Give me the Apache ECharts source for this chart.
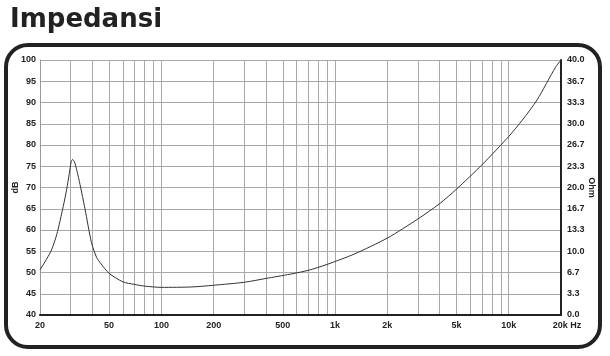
<!DOCTYPE html>
<html>
<head>
<meta charset="utf-8">
<script src="https://cdn.jsdelivr.net/npm/echarts@6/dist/echarts.min.js"></script>
<style>
html,body{margin:0;padding:0;background:#fff;}
#c{width:610px;height:356px;}
</style>
</head>
<body>
<div id="c"></div>
<script>
// Frequencies (Hz) and impedance curve values (dB scale)
var freqs = [20, 22, 23.3, 25, 27.2, 28.5, 29.5, 30.2, 30.8, 31.6, 32.6, 34, 36.3, 39.6, 42.3, 45, 50, 60, 70, 80, 100, 150, 200, 300, 400, 550, 700, 900, 1300, 2000, 3000, 4000, 5000, 7000, 10000, 12000, 14560, 18600, 20000];
var dbValues = [50.6, 53.4, 55.3, 59.0, 65.5, 69.6, 73.3, 76.0, 76.6, 76.0, 74.0, 70.7, 65.0, 57.0, 53.6, 52.0, 49.8, 47.8, 47.2, 46.8, 46.5, 46.6, 47.0, 47.7, 48.6, 49.6, 50.5, 51.9, 54.4, 58.1, 62.6, 66.2, 69.6, 75.3, 82.0, 85.9, 90.6, 98.3, 100.0];

// Grid line frequencies and labelled frequencies
var gridFreqs = [20, 30, 40, 50, 60, 70, 80, 90, 100, 200, 300, 400, 500, 600, 700, 800, 900, 1000, 2000, 3000, 4000, 5000, 6000, 7000, 8000, 9000, 10000, 20000];
var labelFreqs = [20, 50, 100, 200, 500, 1000, 2000, 5000, 10000, 20000];
var labelTexts = ['20', '50', '100', '200', '500', '1k', '2k', '5k', '10k', '20k Hz'];

// Left (dB) and right (Ohm) axis tick labels
var dbTicks = [40, 45, 50, 55, 60, 65, 70, 75, 80, 85, 90, 95, 100];
var ohmLabels = ['0.0', '3.3', '6.7', '10.0', '13.3', '16.7', '20.0', '23.3', '26.7', '30.0', '33.3', '36.7', '40.0'];

var lg = function (v) { return Math.log10(v); };
var seriesData = freqs.map(function (f, i) { return [lg(f), dbValues[i]]; });

var labelFont = { fontFamily: 'Liberation Sans, Arial, sans-serif', fontWeight: 'bold', fontSize: 9, color: '#222' };
var nameFont = { fontFamily: 'Liberation Sans, Arial, sans-serif', fontWeight: 'bold', fontSize: 9, color: '#222' };

var chart = echarts.init(document.getElementById('c'), null, { renderer: 'canvas' });
chart.setOption({
  animation: false,
  backgroundColor: '#fff',
  title: {
    text: 'Impedansi',
    left: 5, top: 2,
    textStyle: { fontFamily: 'DejaVu Sans, sans-serif', fontWeight: 'bold', fontSize: 26, color: '#222' }
  },
  graphic: [{
    type: 'rect',
    shape: { x: 6, y: 45, width: 594, height: 302, r: 22 },
    style: { fill: 'none', stroke: '#222', lineWidth: 4 },
    z: -1, silent: true
  }],
  grid: { left: 40, right: 49, top: 60, bottom: 41, containLabel: false, outerBoundsMode: 'none' },
  xAxis: [{
    type: 'value',
    min: lg(20), max: lg(20000),
    axisLine: { show: true, onZero: false, lineStyle: { color: '#999', width: 1 } },
    axisTick: { show: false, customValues: gridFreqs.map(lg) },
    splitLine: { show: true, lineStyle: { color: '#a8a8a8', width: 1 } },
    axisLabel: Object.assign({
      customValues: labelFreqs.map(lg),
      margin: 6,
      formatter: function (v) {
        var f = Math.round(Math.pow(10, v));
        var i = labelFreqs.indexOf(f);
        var t = i >= 0 ? labelTexts[i] : '';
        if (i === labelFreqs.length - 1) return '{p|}' + t;
        return t;
      },
      rich: { p: { width: 12 } }
    }, labelFont)
  }, {
    type: 'value', position: 'top',
    min: lg(20), max: lg(20000),
    axisLine: { show: true, lineStyle: { color: '#222', width: 2 } },
    axisTick: { show: false }, axisLabel: { show: false }, splitLine: { show: false }
  }],
  yAxis: [{
    type: 'value',
    min: dbTicks[0], max: dbTicks[dbTicks.length - 1], interval: 5,
    name: 'dB', nameLocation: 'middle', nameGap: 20, nameMoveOverlap: false,
    nameTextStyle: nameFont,
    axisLine: { show: true, lineStyle: { color: '#999', width: 1 } },
    axisTick: { show: false },
    splitLine: { show: true, lineStyle: { color: '#a8a8a8', width: 1 } },
    axisLabel: Object.assign({ margin: 4 }, labelFont)
  }, {
    type: 'value', position: 'right',
    min: 0, max: ohmLabels.length - 1, interval: 1,
    name: 'Ohm', nameLocation: 'middle', nameGap: 26, nameRotate: -90, nameMoveOverlap: false,
    nameTextStyle: nameFont,
    axisLine: { show: true, lineStyle: { color: '#222', width: 2 } },
    axisTick: { show: false },
    splitLine: { show: false },
    axisLabel: Object.assign({ margin: 6, formatter: function (v) { return ohmLabels[v]; } }, labelFont)
  }],
  series: [{
    type: 'line',
    xAxisIndex: 0, yAxisIndex: 0,
    data: seriesData,
    smooth: 0.25,
    showSymbol: false,
    lineStyle: { color: '#333', width: 1 }
  }]
});
</script>
</body>
</html>
